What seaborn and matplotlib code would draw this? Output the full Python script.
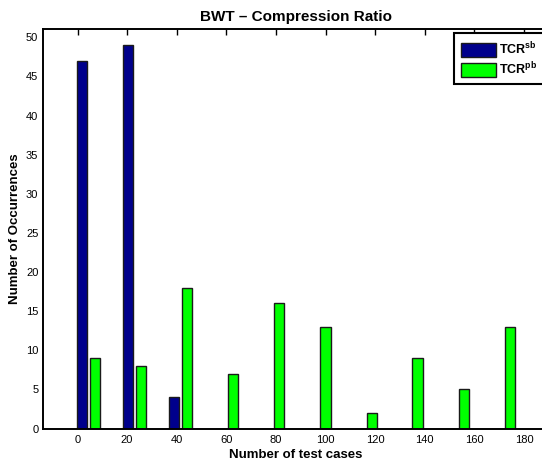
import matplotlib
matplotlib.use("Agg")
import matplotlib.pyplot as plt
from matplotlib.patches import Patch
import seaborn as sns
import pandas as pd

# Data
bin_centers = [4.5, 23.1, 41.5, 60.1, 78.7, 97.3, 116.0, 134.4, 153.0, 171.5]
tcr_sb = [47, 49, 4, 0, 0, 0, 0, 0, 0, 0]
tcr_pb = [9, 8, 18, 7, 16, 13, 2, 9, 5, 13]
series_names = ["sb", "pb"]
legend_labels = [r"$\mathbf{TCR^{sb}}$", r"$\mathbf{TCR^{pb}}$"]
x_ticks = [0, 20, 40, 60, 80, 100, 120, 140, 160, 180]
y_ticks = [0, 5, 10, 15, 20, 25, 30, 35, 40, 45, 50]

df = pd.DataFrame({
    "x": bin_centers * 2,
    "count": tcr_sb + tcr_pb,
    "series": [series_names[0]] * len(tcr_sb) + [series_names[1]] * len(tcr_pb),
})

sns.set_theme(style="white")
plt.rcParams["font.family"] = ["Liberation Sans", "DejaVu Sans"]
plt.rcParams["mathtext.fontset"] = "custom"
plt.rcParams["mathtext.rm"] = "Liberation Sans"
plt.rcParams["mathtext.bf"] = "Liberation Sans:bold"
plt.rcParams["text.color"] = "black"
plt.rcParams["axes.labelcolor"] = "black"

W, H = 542, 465
fig = plt.figure(figsize=(W / 100, H / 100), dpi=100)
ax_left, ax_right, ax_top, ax_bottom = 42.5, 548.5, 29.5, 428.5
ax = fig.add_axes([ax_left / W, 1 - ax_bottom / H,
                   (ax_right - ax_left) / W, (ax_bottom - ax_top) / H])

palette = {"sb": "#00008C", "pb": "#00FF00"}
sns.barplot(data=df, x="x", y="count", hue="series", native_scale=True,
            palette=palette, saturation=1, width=0.58, gap=0.24, errorbar=None,
            edgecolor="#1a1a1a", linewidth=1.0, ax=ax, legend=False)

px_per_unit = (524.0 - 77.5) / 180.0
ax.set_xlim((ax_left - 77.5) / px_per_unit, (ax_right - 77.5) / px_per_unit)
ax.set_ylim(0, 51)
ax.set_xticks(x_ticks)
ax.set_xticklabels([str(t) for t in x_ticks])
ax.set_yticks(y_ticks)
ax.set_yticklabels([str(t) for t in y_ticks])
ax.tick_params(axis="both", direction="in", top=True, right=True, length=4,
               width=1, labelsize=8, colors="black")
ax.tick_params(axis="x", pad=5)
ax.tick_params(axis="y", pad=3)
for s in ax.spines.values():
    s.set_color("black")
    s.set_linewidth(1.4)

ax.set_xlabel("Number of test cases", fontsize=9.5, fontweight="bold", color="black")
ax.set_ylabel("Number of Occurrences", fontsize=9.5, fontweight="bold", color="black")
ax.xaxis.set_label_coords(0.5, (ax_bottom - 449) / (ax_bottom - ax_top))
ax.yaxis.set_label_coords((21 - ax_left) / (ax_right - ax_left), 0.5)
ax.set_title("BWT – Compression Ratio", fontsize=11, fontweight="bold",
             color="black", pad=6)

handles = [Patch(facecolor=palette[n], edgecolor="#1a1a1a", linewidth=1.0)
           for n in series_names]
leg = ax.legend(handles, legend_labels, loc="upper left",
                bbox_to_anchor=(454 / W, 1 - 33.5 / H), bbox_transform=fig.transFigure,
                borderaxespad=0, fontsize=9, handlelength=2.8, handleheight=1.4,
                handletextpad=0.25, labelspacing=0.3, borderpad=0.55,
                fancybox=False, framealpha=1, edgecolor="black")
leg.get_frame().set_linewidth(1.5)

fig.savefig("out.png", dpi=100)
